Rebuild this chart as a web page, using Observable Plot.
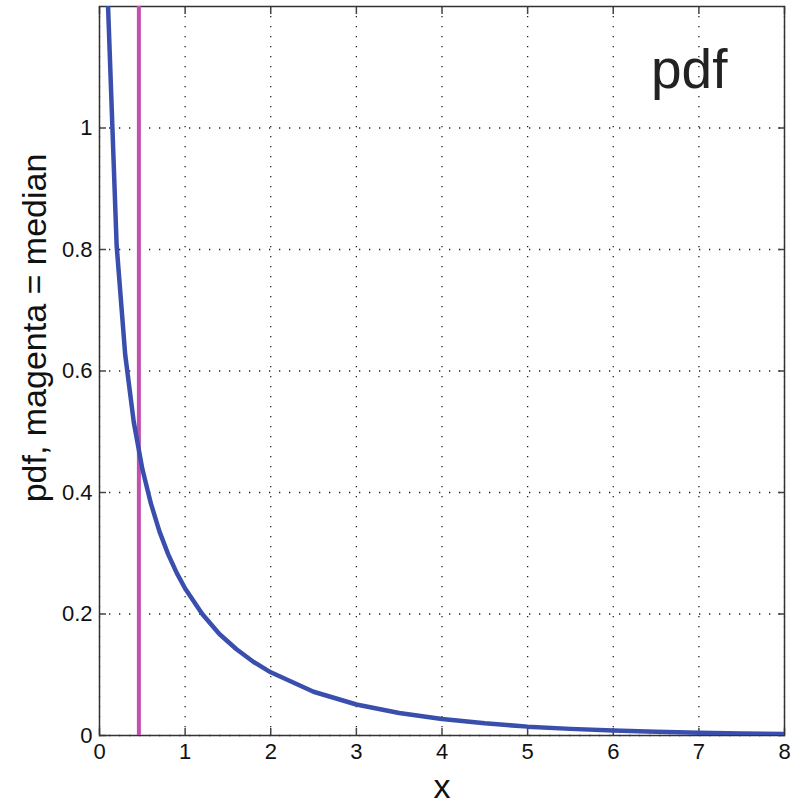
<!DOCTYPE html>
<html>
<head>
<meta charset="utf-8">
<script src="https://cdn.jsdelivr.net/npm/d3@7"></script>
<script src="https://cdn.jsdelivr.net/npm/@observablehq/plot@0.6"></script>
<style>
  html, body { margin: 0; padding: 0; background: #fff; }
  #chart svg { display: block; }
</style>
</head>
<body>
<div id="chart"></div>
<script>
// Curve samples
const xs = [0.1, 0.2, 0.3, 0.4, 0.5, 0.6, 0.7, 0.8, 0.9, 1.0, 1.2, 1.4, 1.6, 1.8, 2.0, 2.5, 3.0, 3.5, 4.0, 4.5, 5.0, 5.5, 6.0, 6.5, 7.0, 7.5, 8.0];
const pdfValues = [1.20, 0.807, 0.627, 0.516, 0.439, 0.382, 0.336, 0.299, 0.268, 0.242, 0.200, 0.167, 0.142, 0.121, 0.104, 0.072, 0.051, 0.037, 0.027, 0.020, 0.0146, 0.0109, 0.0081, 0.0061, 0.0046, 0.0034, 0.0026];
const median = 0.46;
const xTicks = [0, 1, 2, 3, 4, 5, 6, 7, 8];
const yTicks = [0, 0.2, 0.4, 0.6, 0.8, 1];
const yTickLabels = ["0", "0.2", "0.4", "0.6", "0.8", "1"];
const yTitle = "pdf, magenta = median";
const xTitle = "x";
const panelTitle = "pdf";

const curve = xs.map((x, i) => ({x, y: pdfValues[i]}));
const font = "'Liberation Sans', Arial, Helvetica, sans-serif";
const dotted = {stroke: "#222", strokeOpacity: 1, strokeWidth: 1.3, strokeDasharray: "1.3,8.7"};
const tickStyle = {tickSize: 7, tickFormat: () => "", label: null, stroke: "#444", strokeWidth: 1.5};

const chart = Plot.plot({
  width: 794,
  height: 807,
  marginLeft: 99,
  marginRight: 10,
  marginTop: 6,
  marginBottom: 72,
  style: {fontFamily: font, background: "#fff", color: "#111"},
  x: {domain: [0, 8]},
  y: {domain: [0, 1.2]},
  marks: [
    Plot.gridX(xTicks, {...dotted}),
    Plot.gridY(yTicks, {...dotted}),
    // tick labels and x title
    Plot.axisX(xTicks, {anchor: "bottom", tickSize: 0, tickPadding: 8, fontSize: 22, label: xTitle, labelAnchor: "center", labelArrow: "none", labelOffset: 62}),
    Plot.axisY(yTicks, {anchor: "left", tickSize: 0, tickPadding: 7, fontSize: 22, tickFormat: d => yTickLabels[yTicks.indexOf(d)], label: null}),
    // y title
    Plot.text([yTitle], {frameAnchor: "left", text: d => d, rotate: -90, dx: -64, dy: -43, fontSize: 34, fill: "#111", textAnchor: "middle", lineAnchor: "middle"}),
    // inward tick marks on all four sides
    Plot.axisX(xTicks, {anchor: "bottom", dy: -7, ...tickStyle}),
    Plot.axisX(xTicks, {anchor: "top", dy: 7, ...tickStyle}),
    Plot.axisY(yTicks, {anchor: "left", dx: 7, ...tickStyle}),
    Plot.axisY(yTicks, {anchor: "right", dx: -7, ...tickStyle}),
    Plot.frame({stroke: "#333", strokeWidth: 1.5}),
    Plot.ruleX([median], {stroke: "#c150b0", strokeWidth: 4}),
    Plot.line(curve, {x: "x", y: "y", stroke: "#3a4fad", strokeWidth: 4.5, clip: true}),
    Plot.text([panelTitle], {frameAnchor: "top-right", text: d => d, dx: -57, dy: 42, lineAnchor: "top", textAnchor: "end", fontSize: 55, fill: "#222"})
  ]
});

document.getElementById("chart").appendChild(chart);
// enlarge x axis title
chart.querySelectorAll("g[aria-label='x-axis label'] text").forEach(t => {
  t.setAttribute("font-size", "34");
});
</script>
</body>
</html>
